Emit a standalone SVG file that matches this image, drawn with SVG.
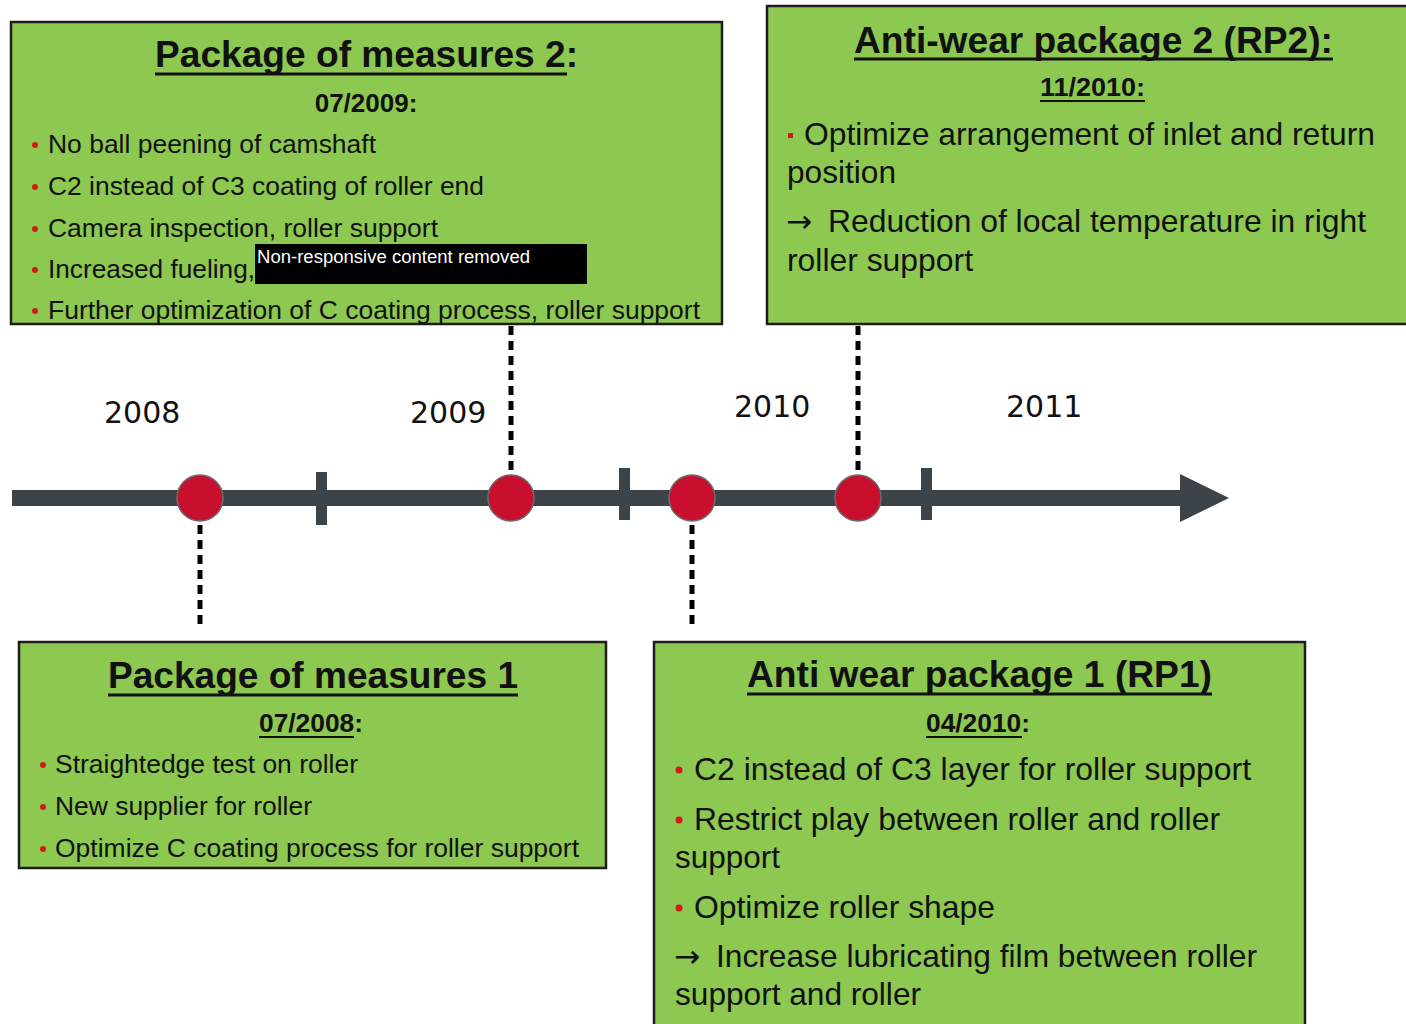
<svg xmlns="http://www.w3.org/2000/svg" width="1406" height="1024" viewBox="0 0 1406 1024">
<style>
.box{fill:#8dc850;stroke:#1e1e1e;stroke-width:2.5}
.t{font-family:"Liberation Sans",Arial,sans-serif;fill:#111}
.ttl{font-size:37px;font-weight:bold}
.dt{font-size:26px;font-weight:bold}
.s{font-size:26px}
.l{font-size:31.5px}
.arr{font-family:"DejaVu Sans",sans-serif;font-size:31px;fill:#111}
.ul{stroke:#111;stroke-width:3}
.uls{stroke:#111;stroke-width:2.2}
.bul{fill:#d11a1a}
.yr{font-family:"DejaVu Sans",sans-serif;font-size:30px;fill:#111}
.dot{stroke:#000;stroke-width:5;stroke-dasharray:9 6;fill:none}
.ms{fill:#c8102e;stroke:#6b6b6b;stroke-width:1.5}
.bar{fill:#3c4349}
</style>

<g id="timeline">
<rect class="bar" x="12" y="490" width="1172" height="16"/>
<polygon class="bar" points="1180,474 1229,498 1180,522"/>
<rect class="bar" x="316" y="472" width="11" height="53"/>
<rect class="bar" x="619" y="468" width="11" height="52"/>
<rect class="bar" x="921" y="468" width="11" height="52"/>
<text class="yr" x="104" y="423">2008</text>
<text class="yr" x="410" y="423">2009</text>
<text class="yr" x="734" y="417">2010</text>
<text class="yr" x="1006" y="417">2011</text>
</g>

<g id="connectors">
<line class="dot" x1="200" y1="510" x2="200" y2="628"/>
<line class="dot" x1="511" y1="326" x2="511" y2="478"/>
<line class="dot" x1="692" y1="510" x2="692" y2="628"/>
<line class="dot" x1="858" y1="326" x2="858" y2="478"/>
</g>

<g id="milestones">
<circle class="ms" cx="200" cy="498" r="23"/>
<circle class="ms" cx="511" cy="498" r="23"/>
<circle class="ms" cx="692" cy="498" r="23"/>
<circle class="ms" cx="858" cy="498" r="23"/>
</g>

<g id="pm2">
<rect class="box" x="11" y="22" width="711" height="302"/>
<text class="t ttl" x="155" y="67" textLength="423" lengthAdjust="spacingAndGlyphs">Package of measures 2:</text>
<line class="ul" x1="155" y1="74" x2="567" y2="74"/>
<text class="t dt" x="366" y="112" text-anchor="middle">07/2009:</text>
<circle class="bul" cx="35" cy="145" r="3"/>
<text class="t s" x="48" y="153" textLength="328" lengthAdjust="spacingAndGlyphs">No ball peening of camshaft</text>
<circle class="bul" cx="35" cy="187" r="3"/>
<text class="t s" x="48" y="195" textLength="436" lengthAdjust="spacingAndGlyphs">C2 instead of C3 coating of roller end</text>
<circle class="bul" cx="35" cy="229" r="3"/>
<text class="t s" x="48" y="237" textLength="390" lengthAdjust="spacingAndGlyphs">Camera inspection, roller support</text>
<circle class="bul" cx="35" cy="270" r="3"/>
<text class="t s" x="48" y="278" textLength="207" lengthAdjust="spacingAndGlyphs">Increased fueling,</text>
<rect x="255" y="244" width="332" height="40" fill="#000"/>
<text x="257" y="263" font-family="Liberation Sans, Arial, sans-serif" font-size="18" fill="#fff" textLength="273" lengthAdjust="spacingAndGlyphs">Non-responsive content removed</text>
<circle class="bul" cx="35" cy="311" r="3"/>
<text class="t s" x="48" y="319" textLength="652" lengthAdjust="spacingAndGlyphs">Further optimization of C coating process, roller support</text>
</g>

<g id="rp2">
<rect class="box" x="767" y="6" width="645" height="318"/>
<text class="t ttl" x="854" y="53" textLength="479" lengthAdjust="spacingAndGlyphs">Anti-wear package 2 (RP2):</text>
<line class="ul" x1="854" y1="59" x2="1333" y2="59"/>
<text class="t dt" x="1040" y="96" textLength="105" lengthAdjust="spacingAndGlyphs">11/2010:</text>
<line class="uls" x1="1040" y1="101" x2="1145" y2="101"/>
<rect x="788" y="133" width="5" height="5" fill="#d11a1a"/>
<text class="t l" x="804" y="145" textLength="571" lengthAdjust="spacingAndGlyphs">Optimize arrangement of inlet and return</text>
<text class="t l" x="787" y="183" textLength="109" lengthAdjust="spacingAndGlyphs">position</text>
<text class="arr" x="786" y="232">→</text>
<text class="t l" x="828" y="232" textLength="538" lengthAdjust="spacingAndGlyphs">Reduction of local temperature in right</text>
<text class="t l" x="787" y="271" textLength="186" lengthAdjust="spacingAndGlyphs">roller support</text>
</g>

<g id="pm1">
<rect class="box" x="19" y="642" width="587" height="226"/>
<text class="t ttl" x="108" y="688" textLength="410" lengthAdjust="spacingAndGlyphs">Package of measures 1</text>
<line class="ul" x1="108" y1="695" x2="518" y2="695"/>
<text class="t dt" x="259" y="732" textLength="104" lengthAdjust="spacingAndGlyphs">07/2008:</text>
<line class="uls" x1="259" y1="737" x2="354" y2="737"/>
<circle class="bul" cx="43" cy="765" r="3"/>
<text class="t s" x="55" y="773" textLength="303" lengthAdjust="spacingAndGlyphs">Straightedge test on roller</text>
<circle class="bul" cx="43" cy="807" r="3"/>
<text class="t s" x="55" y="815" textLength="257" lengthAdjust="spacingAndGlyphs">New supplier for roller</text>
<circle class="bul" cx="43" cy="849" r="3"/>
<text class="t s" x="55" y="857" textLength="524" lengthAdjust="spacingAndGlyphs">Optimize C coating process for roller support</text>
</g>

<g id="rp1">
<rect class="box" x="654" y="642" width="651" height="400"/>
<text class="t ttl" x="747" y="687" textLength="465" lengthAdjust="spacingAndGlyphs">Anti wear package 1 (RP1)</text>
<line class="ul" x1="747" y1="694" x2="1212" y2="694"/>
<text class="t dt" x="926" y="732" textLength="104" lengthAdjust="spacingAndGlyphs">04/2010:</text>
<line class="uls" x1="926" y1="737" x2="1022" y2="737"/>
<circle class="bul" cx="679" cy="770" r="3.5"/>
<text class="t l" x="694" y="780" textLength="557" lengthAdjust="spacingAndGlyphs">C2 instead of C3 layer for roller support</text>
<circle class="bul" cx="679" cy="820" r="3.5"/>
<text class="t l" x="694" y="830" textLength="526" lengthAdjust="spacingAndGlyphs">Restrict play between roller and roller</text>
<text class="t l" x="675" y="868" textLength="105" lengthAdjust="spacingAndGlyphs">support</text>
<circle class="bul" cx="679" cy="908" r="3.5"/>
<text class="t l" x="694" y="918" textLength="301" lengthAdjust="spacingAndGlyphs">Optimize roller shape</text>
<text class="arr" x="674" y="967">→</text>
<text class="t l" x="716" y="967" textLength="541" lengthAdjust="spacingAndGlyphs">Increase lubricating film between roller</text>
<text class="t l" x="675" y="1005" textLength="246" lengthAdjust="spacingAndGlyphs">support and roller</text>
</g>
</svg>
